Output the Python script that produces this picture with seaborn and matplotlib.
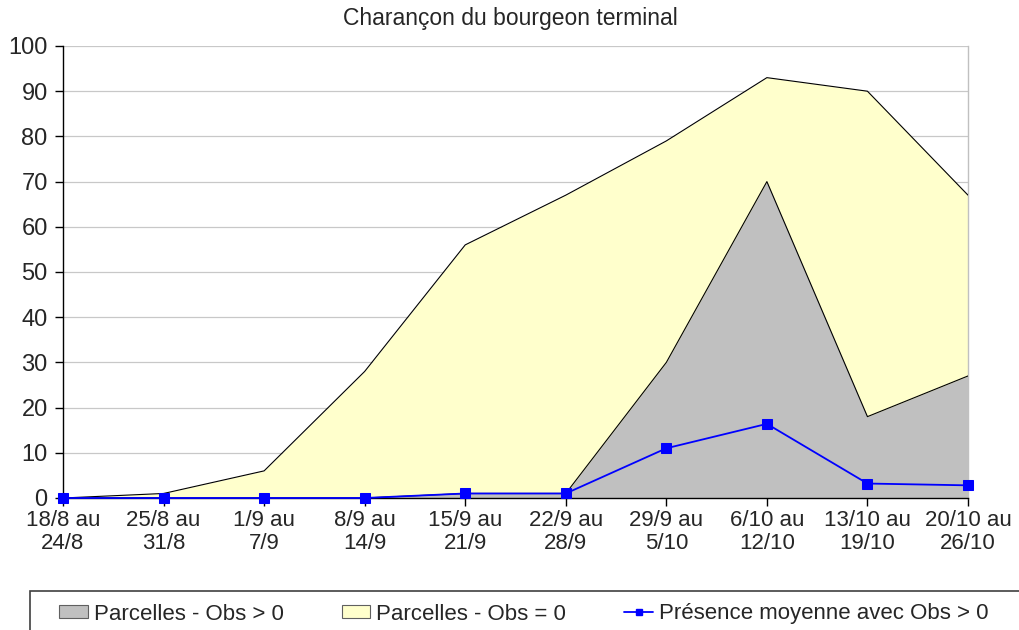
import numpy as np
import pandas as pd
import seaborn as sns
import matplotlib.pyplot as plt
from matplotlib.patches import Patch, Rectangle
from matplotlib.lines import Line2D

# données
semaines = ['18/8 au\n24/8', '25/8 au\n31/8', '1/9 au\n7/9', '8/9 au\n14/9', '15/9 au\n21/9',
            '22/9 au\n28/9', '29/9 au\n5/10', '6/10 au\n12/10', '13/10 au\n19/10', '20/10 au\n26/10']
obs_pos = [0, 0, 0, 0, 1, 1, 30, 70, 18, 27]          # Parcelles - Obs > 0
obs_nul = [0, 1, 6, 28, 55, 66, 49, 23, 72, 40]       # Parcelles - Obs = 0 (empilé)
presence = [0, 0, 0, 0, 1, 1, 11, 16.4, 3.2, 2.8]     # Présence moyenne avec Obs > 0

sns.set_style('white')
plt.rcParams['font.family'] = ['Liberation Sans', 'DejaVu Sans']

df = pd.DataFrame({'x': np.arange(len(semaines)), 'pos': obs_pos, 'nul': obs_nul, 'pres': presence})
df['total'] = df['pos'] + df['nul']

fig = plt.figure(figsize=(10.2, 6.3), dpi=100)
ax = fig.add_axes([63 / 1020, 1 - 498 / 630, 905 / 1020, 452 / 630])

# aires empilées
ax.fill_between(df['x'], 0, df['total'], color='#ffffcc', lw=0, zorder=1)
ax.fill_between(df['x'], 0, df['pos'], color='#c0c0c0', lw=0, zorder=2)
sns.lineplot(x='x', y='total', data=df, color='black', lw=0.8, ax=ax, zorder=3)
sns.lineplot(x='x', y='pos', data=df, color='black', lw=0.8, ax=ax, zorder=3)
# courbe bleue
sns.lineplot(x='x', y='pres', data=df, color='#0000ff', lw=1.3, marker='s', markersize=7,
             markeredgecolor='#0000ff', ax=ax, zorder=5, clip_on=False)

ax.set_xlim(0, len(semaines) - 1)
ax.set_ylim(0, 100)
ax.set_yticks(range(0, 101, 10))
ax.set_xticks(df['x'])
ax.set_xticklabels(semaines, fontsize=16, linespacing=1.1)
ax.tick_params(axis='y', labelsize=17, length=6, width=1, color='black', direction='out', left=True, pad=5)
ax.tick_params(axis='x', length=6, width=1, color='black', direction='out', bottom=True, pad=3)
ax.yaxis.grid(True, color='#c8c8c8', lw=0.9)
ax.set_axisbelow(True)
ax.set_xlabel('')
ax.set_ylabel('')
for s in ['left', 'bottom']:
    ax.spines[s].set_color('black')
    ax.spines[s].set_linewidth(1)
ax.spines['top'].set_visible(False)
ax.spines['right'].set_color('#c0c0c0')
ax.spines['right'].set_linewidth(1)

fig.text(0.5, 1 - 19 / 630, 'Charançon du bourgeon terminal', ha='center', va='center', fontsize=16.5)

# cadre de la légende (dépasse à droite et en bas comme l'original)
fig.patches.append(Rectangle((30 / 1020, -0.1), 1.0, (630 - 591) / 630 + 0.1,
                             transform=fig.transFigure, fill=False, edgecolor='#404040', lw=1.2))

poignees = [Patch(facecolor='#c0c0c0', edgecolor='#606060', lw=0.8),
            Patch(facecolor='#ffffcc', edgecolor='#606060', lw=0.8),
            Line2D([0], [0], color='#0000ff', lw=1.3, marker='s', markersize=5)]
noms = ['Parcelles - Obs > 0', 'Parcelles - Obs = 0', 'Présence moyenne avec Obs > 0']
leg = fig.legend(poignees, noms, loc='center left', bbox_to_anchor=(59 / 1020, 1 - 614 / 630),
                 ncol=3, fontsize=16, frameon=False,
                 handlelength=1.3, handleheight=0.5, handletextpad=0.27, borderpad=0,
                 columnspacing=2.6, borderaxespad=0)

fig.savefig('out.png', dpi=100)
